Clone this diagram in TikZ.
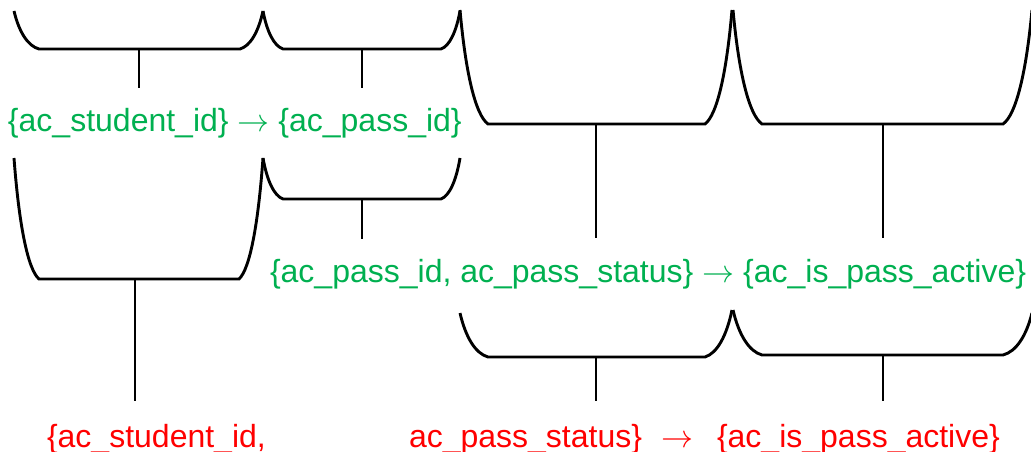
\documentclass[tikz,border=0pt]{standalone}
\usepackage{graphicx}
\usepackage{fontspec}
\setmainfont{Liberation Sans}
\definecolor{fdgreen}{RGB}{0,176,80}
\definecolor{fdred}{RGB}{255,0,0}
% bracket: E=(#1,#2) top-left end, corner-left (#3,#4), corner-right (#5,#4), top-right end (#6,#7)
\newcommand\fdbrk[7]{%
  \draw[brk] (#1,#2)
    .. controls ({#1+0.2*(#3-#1)},{#2+0.55*(#4-#2)}) and ({#1+0.55*(#3-#1)},{#2+0.92*(#4-#2)}) .. (#3,#4)
    -- (#5,#4)
    .. controls ({#5+0.45*(#6-#5)},{#4-0.08*(#4-#7)}) and ({#5+0.8*(#6-#5)},{#4-0.45*(#4-#7)}) .. (#6,#7);}
\newcommand\fdarr{\resizebox{32pt}{!}{$\rightarrow$}}
\begin{document}
\begin{tikzpicture}[x=1pt,y=-1pt,
  brk/.style={line width=2.9pt,black,line join=miter},
  stem/.style={line width=2.9pt,black},
  lbl/.style={inner sep=0pt,outer sep=0pt,anchor=base west,font=\fontsize{32pt}{38pt}\selectfont},
  grn/.style={lbl,text=fdgreen},
  rd/.style={lbl,text=fdred}]
\useasboundingbox (0,0) rectangle (1031,452);
\clip (0,0) rectangle (1031,452);
% top row brackets
\fdbrk{14}{11}{39}{49}{240}{263}{11}
\fdbrk{263}{11}{283}{49}{441}{460}{11}
\fdbrk{460}{10}{488}{124}{705}{732}{10}
\fdbrk{733}{10}{762}{124}{1003}{1032}{10}
% middle row brackets
\fdbrk{14}{158}{39}{279}{239}{263}{158}
\fdbrk{263}{158}{283}{199}{441}{460}{158}
% bottom row brackets
\fdbrk{460}{313}{488}{357}{705}{732}{310}
\fdbrk{733}{310}{762}{355}{1003}{1032}{313}
% stems
\coordinate (s1a) at (139,49);  \coordinate (s1b) at (139,88);
\coordinate (s2a) at (362,49);  \coordinate (s2b) at (362,88);
\coordinate (s3a) at (596,124); \coordinate (s3b) at (596,238);
\coordinate (s4a) at (883,124); \coordinate (s4b) at (883,238);
\coordinate (s5a) at (135,279); \coordinate (s5b) at (135,401);
\coordinate (s6a) at (362,199); \coordinate (s6b) at (362,239);
\coordinate (s7a) at (596,357); \coordinate (s7b) at (596,401);
\coordinate (s8a) at (883,355); \coordinate (s8b) at (883,401);
\foreach \i in {1,...,8} {\draw[stem] (s\i a) -- (s\i b);}
% texts
\node[grn] (g1) at (8,131) {\{ac\_student\_id\} \fdarr{} \{ac\_pass\_id\}};
\node[grn] (g2) at (270,282) {\{ac\_pass\_id, ac\_pass\_status\} \fdarr{} \{ac\_is\_pass\_active\}};
\node[rd] (r1) at (47,447) {\{ac\_student\_id,};
\node[rd] (r2) at (409,447) {ac\_pass\_status\}};
\node[rd,anchor=base] (r3) at (677,447) {\fdarr};
\node[rd] (r4) at (717,447) {\{ac\_is\_pass\_active\}};
\end{tikzpicture}
\end{document}
